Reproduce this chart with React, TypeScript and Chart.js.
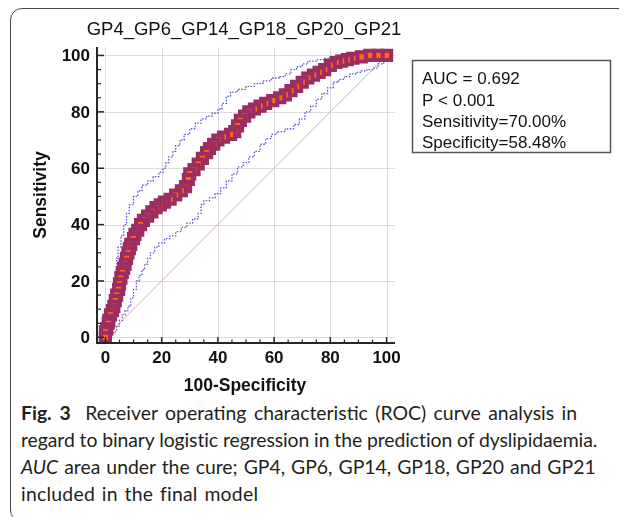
import React, { useEffect, useRef } from "react";
import { Chart, registerables } from "chart.js";

Chart.register(...registerables);

const chartTitle = "GP4_GP6_GP14_GP18_GP20_GP21";
const xAxisTitle = "100-Specificity";
const yAxisTitle = "Sensitivity";
const majorTicks = [0, 20, 40, 60, 80, 100];
const minorTicks = [5, 10, 15, 25, 30, 35, 45, 50, 55, 65, 70, 75, 85, 90, 95];
const statsLines = ["AUC = 0.692", "P < 0.001", "Sensitivity=70.00%", "Specificity=58.48%"];

// ROC curve (100-Specificity, Sensitivity)
const rocX = [0, 0, 0.5, 1, 1.2, 1.8, 2.5, 3, 3.5, 4, 4.7, 5, 5.5, 6, 6.5, 7, 7.5, 8, 8.5, 9, 10, 10.5, 11.5, 12.5, 13.5, 15, 16.5, 18, 19.5, 21, 23, 25, 27, 28.5, 29.5, 30, 31.5, 33, 34.5, 36, 37, 38.5, 40, 42, 44.5, 46, 47, 48, 49.5, 51, 53, 55, 57, 59.5, 62, 64, 66, 68, 70, 72, 74, 76, 78, 80, 82, 84, 86, 88, 91, 94, 97, 100];
const rocY = [0, 2, 3, 5, 6, 8, 9.5, 11, 13, 15, 17, 19, 21, 23, 24.5, 26, 28, 30, 31.5, 33, 35, 36.5, 38, 40, 41.5, 43, 44.5, 46, 47, 48, 49, 50.5, 52, 53.5, 56, 58, 59.5, 61.5, 63.5, 65.5, 67, 68.5, 70, 71, 72, 73, 75, 77, 78.5, 80, 81, 82, 83, 84, 85, 86, 87.5, 89, 90.5, 92, 93, 94, 95, 96.5, 97.5, 98, 98.5, 99, 99.5, 100, 100, 100];

// Upper 95% confidence bound
const upperX = [0, 0.5, 1, 2, 2.5, 3, 3.5, 4, 4.5, 5.5, 6.5, 7.5, 8.5, 10, 11.5, 13, 15, 17, 19, 20.5, 21.5, 22.5, 24, 25, 26.5, 28, 30, 32, 34, 36, 38, 40, 41.5, 43, 44.5, 47, 50, 53, 56, 59, 62, 64, 66, 68, 70, 72, 75, 78, 82, 86, 100];
const upperY = [0, 4, 8, 12, 16, 20, 24, 28, 32, 36, 40, 44, 47, 50, 52, 54, 55.5, 57, 58.5, 60, 62, 64, 66, 68, 70, 72, 74, 76, 77.5, 78.5, 79.5, 81, 83, 85.5, 87, 88, 89, 90, 91, 92, 92.5, 93.5, 95, 96, 97, 98, 98.5, 99, 99.5, 100, 100];

// Lower 95% confidence bound
const lowerX = [0, 1.5, 3, 4, 5, 6, 7, 8, 9, 10, 11, 12, 13, 14, 15, 16, 17.5, 19, 21, 23, 25, 27, 29, 31, 33, 34, 35, 37, 39, 41, 43, 45, 47, 49, 51, 53, 55, 57, 59, 61, 64, 67, 69, 71, 73, 75, 77, 79, 81, 83, 85, 87, 89, 91, 93, 95, 97, 99, 100, 100];
const lowerY = [0, 0, 1, 2, 4, 6, 8, 9.5, 11, 14, 17, 20, 22, 24, 26, 28, 30, 32, 33.5, 35, 36, 37.5, 39, 40.5, 42, 44, 47, 48.5, 49.5, 51, 53, 55.5, 58, 60.5, 62, 64, 66, 68.5, 70.5, 72, 73, 74, 75.5, 77.5, 80, 82, 84.5, 86.5, 88.5, 90.5, 91.5, 92.5, 93.5, 94, 94.5, 95, 95.5, 97, 98.5, 100];

// Reference diagonal
const diagX = [0, 100];
const diagY = [0, 100];

const FONT = "'Liberation Sans', Arial, sans-serif";

const pts = (xs: number[], ys: number[]) => xs.map((x, i) => ({ x, y: ys[i] }));

const decorPlugin = {
  id: "decor",
  beforeDatasetsDraw(chart: any) {
    const { ctx, chartArea: a, scales } = chart;
    const x = scales.x;
    const y = scales.y;
    ctx.save();
    ctx.strokeStyle = "#dcdcdc";
    ctx.lineWidth = 1;
    for (const v of majorTicks) {
      const px = Math.round(x.getPixelForValue(v)) + 0.5;
      ctx.beginPath();
      ctx.moveTo(px, a.top);
      ctx.lineTo(px, a.bottom);
      ctx.stroke();
      const py = Math.round(y.getPixelForValue(v)) + 0.5;
      ctx.beginPath();
      ctx.moveTo(a.left, py);
      ctx.lineTo(a.right, py);
      ctx.stroke();
    }
    ctx.restore();
  },
  afterDatasetsDraw(chart: any) {
    const { ctx, chartArea: a, scales } = chart;
    const x = scales.x;
    const y = scales.y;
    ctx.save();
    ctx.strokeStyle = "#262626";
    ctx.lineWidth = 2;
    ctx.beginPath();
    ctx.moveTo(a.left, a.top);
    ctx.lineTo(a.left, a.bottom);
    ctx.lineTo(a.right, a.bottom);
    ctx.stroke();
    ctx.lineWidth = 1.5;
    for (const v of majorTicks) {
      const py = y.getPixelForValue(v);
      ctx.beginPath();
      ctx.moveTo(a.left - 1, py);
      ctx.lineTo(a.left + 7, py);
      ctx.stroke();
      const px = x.getPixelForValue(v);
      ctx.beginPath();
      ctx.moveTo(px, a.bottom + 1);
      ctx.lineTo(px, a.bottom - 6);
      ctx.stroke();
    }
    ctx.lineWidth = 1.2;
    for (const v of minorTicks) {
      const py = y.getPixelForValue(v);
      ctx.beginPath();
      ctx.moveTo(a.left, py);
      ctx.lineTo(a.left + 4, py);
      ctx.stroke();
      const px = x.getPixelForValue(v);
      ctx.beginPath();
      ctx.moveTo(px, a.bottom);
      ctx.lineTo(px, a.bottom - 3.5);
      ctx.stroke();
    }

    ctx.fillStyle = "#111";
    ctx.font = `bold 17px ${FONT}`;
    ctx.textAlign = "right";
    ctx.textBaseline = "middle";
    for (const v of majorTicks) {
      ctx.fillText(String(v), a.left - 7, y.getPixelForValue(v) + 1);
    }
    ctx.textAlign = "center";
    for (const v of majorTicks) {
      ctx.fillText(String(v), x.getPixelForValue(v), a.bottom + 15);
    }

    ctx.font = `bold 17.5px ${FONT}`;
    ctx.fillText(xAxisTitle, (x.getPixelForValue(0) + x.getPixelForValue(100)) / 2 - 1, a.bottom + 43);
    ctx.save();
    ctx.translate(33, (a.top + a.bottom) / 2);
    ctx.rotate(-Math.PI / 2);
    ctx.fillText(yAxisTitle, 0, 0);
    ctx.restore();

    ctx.font = `18.5px ${FONT}`;
    ctx.fillText(chartTitle, 236, 22);

    // statistics box
    ctx.strokeStyle = "#555";
    ctx.lineWidth = 1.5;
    ctx.strokeRect(404.5, 52.5, 198, 92);
    ctx.font = `17px ${FONT}`;
    ctx.textAlign = "left";
    ctx.fillStyle = "#111";
    const lineY = [71.5, 93, 114.5, 135];
    statsLines.forEach((t, i) => ctx.fillText(t, 414, lineY[i]));
    ctx.restore();
  },
};

export default function App() {
  const ref = useRef<HTMLCanvasElement | null>(null);

  useEffect(() => {
    if (!ref.current) return;
    const rocPts = pts(rocX, rocY).reverse();
    const chart = new Chart(ref.current, {
      type: "scatter",
      data: {
        datasets: [
          {
            label: "ROC",
            data: rocPts,
            showLine: true,
            borderColor: "#9b2d62",
            borderWidth: 10,
            borderJoinStyle: "miter",
            pointStyle: "rect",
            pointRadius: 6.5,
            pointBackgroundColor: "#ff6a10",
            pointBorderColor: "#9b2d62",
            pointBorderWidth: 4,
            order: 0,
          },
          {
            label: "Upper",
            data: pts(upperX, upperY),
            showLine: true,
            stepped: "before",
            borderColor: "#5656c8",
            borderWidth: 1.3,
            borderDash: [1.5, 1.5],
            pointRadius: 0,
            order: 1,
          },
          {
            label: "Lower",
            data: pts(lowerX, lowerY),
            showLine: true,
            stepped: "after",
            borderColor: "#5656c8",
            borderWidth: 1.3,
            borderDash: [1.5, 1.5],
            pointRadius: 0,
            order: 1,
          },
          {
            label: "Diagonal",
            data: pts(diagX, diagY),
            showLine: true,
            borderColor: "#e2a6a6",
            borderWidth: 1,
            pointRadius: 0,
            order: 2,
          },
        ],
      } as any,
      options: {
        animation: false,
        responsive: false,
        maintainAspectRatio: false,
        events: [],
        layout: { padding: { left: 89, top: 39, right: 232, bottom: 55 } },
        plugins: {
          legend: { display: false },
          tooltip: { enabled: false },
          title: { display: false },
        },
        scales: {
          x: { type: "linear", min: -3, max: 103, display: false },
          y: { type: "linear", min: -2, max: 103, display: false },
        },
      } as any,
      plugins: [decorPlugin],
    });
    return () => chart.destroy();
  }, []);

  const capStyle: React.CSSProperties = {
    position: "absolute",
    left: 13,
    whiteSpace: "nowrap",
    fontFamily: "Lato, 'Open Sans', sans-serif",
    fontSize: 19.4,
    lineHeight: "27px",
    color: "#231f20",
  };

  return (
    <div style={{ position: "relative", width: 619, height: 509, overflow: "hidden", background: "#fff" }}>
      <div
        style={{
          position: "absolute",
          left: 2,
          top: 0,
          width: 624,
          height: 514,
          boxSizing: "border-box",
          border: "1.5px solid #4a4a4a",
          borderRadius: 12,
        }}
      />
      <canvas ref={ref} width={619} height={390} style={{ position: "absolute", left: 0, top: 0, display: "block" }} />
      <div style={{ ...capStyle, top: 391, wordSpacing: 2.5 }}>
        <span style={{ fontWeight: 700, wordSpacing: 3 }}>Fig. 3</span>
        {"\u2003Receiver operating characteristic (ROC) curve analysis in"}
      </div>
      <div style={{ ...capStyle, top: 418, letterSpacing: -0.08 }}>
        regard to binary logistic regression in the prediction of dyslipidaemia.
      </div>
      <div style={{ ...capStyle, top: 445, wordSpacing: 1 }}>
        <i>AUC</i> area under the cure; GP4, GP6, GP14, GP18, GP20 and GP21
      </div>
      <div style={{ ...capStyle, top: 472, wordSpacing: 1.5, letterSpacing: 0.25 }}>included in the final model</div>
    </div>
  );
}
